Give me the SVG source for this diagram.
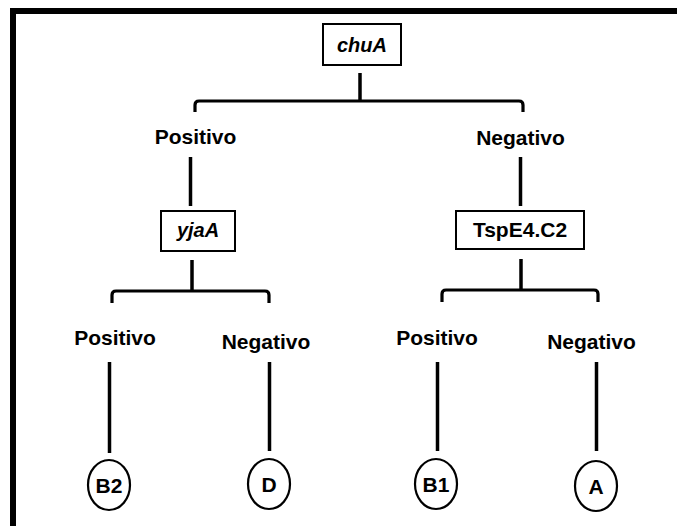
<svg xmlns="http://www.w3.org/2000/svg" width="677" height="526" viewBox="0 0 677 526">
<style>
.frame{fill:#000}
.box{fill:#fff;stroke:#000;stroke-width:2}
.oval{fill:#fff;stroke:#000;stroke-width:2.2}
.ln{fill:none;stroke:#000;stroke-width:3.5;stroke-linecap:butt}
.br{fill:none;stroke:#000;stroke-width:3.2;stroke-linejoin:round}
.lbl{font-family:"Liberation Sans",Arial,sans-serif;font-weight:bold;font-size:21px;fill:#000;text-anchor:middle}
.gene{font-family:"Liberation Sans",Arial,sans-serif;font-weight:bold;font-style:italic;font-size:20px;fill:#000;text-anchor:middle}
.leaf{font-family:"Liberation Sans",Arial,sans-serif;font-weight:bold;font-size:21px;fill:#000;text-anchor:middle}
</style>
<rect width="677" height="526" fill="#fff"/>
<g id="frame">
<rect class="frame" x="10" y="8" width="667" height="6"/>
<rect class="frame" x="10" y="8" width="6" height="518"/>
</g>
<g id="connectors">
<line class="ln" x1="360" y1="73" x2="360" y2="101"/>
<path class="br" d="M195,112 L195,105 Q195,101 199,101 L519,101 Q523,101 523,105 L523,112"/>
<line class="ln" x1="190.5" y1="157" x2="190.5" y2="206"/>
<line class="ln" x1="520.5" y1="157" x2="520.5" y2="206"/>
<line class="ln" x1="192" y1="260" x2="192" y2="291"/>
<path class="br" d="M112,303 L112,295 Q112,291 116,291 L265,291 Q269,291 269,295 L269,303"/>
<line class="ln" x1="521" y1="259" x2="521" y2="290"/>
<path class="br" d="M442,302 L442,294 Q442,290 446,290 L594,290 Q598,290 598,294 L598,302"/>
<line class="ln" x1="109.5" y1="362" x2="109.5" y2="453"/>
<line class="ln" x1="269.5" y1="362" x2="269.5" y2="451"/>
<line class="ln" x1="437.5" y1="362" x2="437.5" y2="451"/>
<line class="ln" x1="596.5" y1="362" x2="596.5" y2="451"/>
</g>
<g id="chuA">
<rect class="box" x="323" y="24" width="78" height="41"/>
<text class="gene" x="362" y="52">chuA</text>
</g>
<g id="pos1"><text class="lbl" x="195.5" y="144">Positivo</text></g>
<g id="neg1"><text class="lbl" x="520.5" y="145">Negativo</text></g>
<g id="yjaA">
<rect class="box" x="161" y="211" width="74" height="40"/>
<text class="gene" x="198" y="237">yjaA</text>
</g>
<g id="TspE4C2">
<rect class="box" x="456" y="211" width="128" height="38"/>
<text class="lbl" x="520" y="237">TspE4.C2</text>
</g>
<g id="pos2"><text class="lbl" x="115" y="345">Positivo</text></g>
<g id="neg2"><text class="lbl" x="266" y="349">Negativo</text></g>
<g id="pos3"><text class="lbl" x="437" y="345">Positivo</text></g>
<g id="neg3"><text class="lbl" x="591.5" y="349">Negativo</text></g>
<g id="B2">
<ellipse class="oval" cx="109" cy="485" rx="21" ry="25"/>
<text class="leaf" x="109" y="493">B2</text>
</g>
<g id="D">
<ellipse class="oval" cx="269" cy="484" rx="21" ry="25"/>
<text class="leaf" x="269" y="492">D</text>
</g>
<g id="B1">
<ellipse class="oval" cx="436" cy="484" rx="21" ry="25"/>
<text class="leaf" x="436" y="492">B1</text>
</g>
<g id="A">
<ellipse class="oval" cx="596" cy="486" rx="21" ry="25"/>
<text class="leaf" x="596" y="494">A</text>
</g>
</svg>
